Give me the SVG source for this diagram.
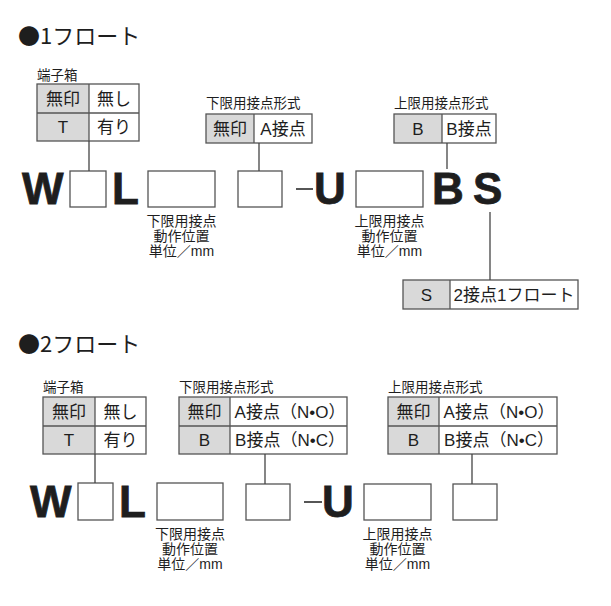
<svg xmlns="http://www.w3.org/2000/svg" width="611" height="606" viewBox="0 0 611 606">
<style>
text{font-family:"Liberation Sans","Noto Sans CJK JP",sans-serif;fill:#1e1e1e}
.title{font-size:22px;font-family:"Noto Sans CJK JP","Liberation Sans",sans-serif}
.hdr{font-size:13.5px}
.cell{font-size:17px;text-anchor:middle}
.lbl{font-size:14px;text-anchor:middle}
.big{font-size:44px;font-weight:bold;stroke:#1e1e1e;stroke-width:0.8}
.g{fill:#d9d9d9}
.w{fill:#fff}
.bd{fill:none;stroke:#555;stroke-width:1.3}
.ln{stroke:#555;stroke-width:1.3;fill:none}
.cn{stroke:#444;stroke-width:1.3;fill:none}
</style>
<rect width="611" height="606" fill="#fff"/>

<!-- Section 1 -->
<text class="title" x="18" y="44">●1フロート</text>

<g id="s1-terminal">
<text class="hdr" x="37" y="80">端子箱</text>
<rect class="g" x="37" y="84" width="52" height="57"/>
<rect class="w" x="89" y="84" width="50" height="57"/>
<rect class="bd" x="37" y="84" width="102" height="57"/>
<line class="ln" x1="37" y1="113" x2="139" y2="113"/>
<line class="ln" x1="89" y1="84" x2="89" y2="141"/>
<text class="cell" x="63" y="105">無印</text>
<text class="cell" x="114" y="105">無し</text>
<text class="cell" x="63" y="133">T</text>
<text class="cell" x="114" y="133">有り</text>
</g>

<g id="s1-lower">
<text class="hdr" x="206" y="108">下限用接点形式</text>
<rect class="g" x="206" y="114" width="48" height="29"/>
<rect class="w" x="254" y="114" width="58" height="29"/>
<rect class="bd" x="206" y="114" width="106" height="29"/>
<line class="ln" x1="254" y1="114" x2="254" y2="143"/>
<text class="cell" x="230" y="135">無印</text>
<text class="cell" x="283" y="135">A接点</text>
</g>

<g id="s1-upper">
<text class="hdr" x="394" y="108">上限用接点形式</text>
<rect class="g" x="394" y="114" width="48" height="29"/>
<rect class="w" x="442" y="114" width="54" height="29"/>
<rect class="bd" x="394" y="114" width="102" height="29"/>
<line class="ln" x1="442" y1="114" x2="442" y2="143"/>
<text class="cell" x="418" y="135">B</text>
<text class="cell" x="469" y="135">B接点</text>
</g>

<g id="s1-code">
<text class="big" x="22" y="204">W</text>
<rect class="bd" x="70" y="171" width="36" height="36"/>
<text class="big" x="112" y="204">L</text>
<rect class="bd" x="148" y="171" width="67" height="36"/>
<rect class="bd" x="238" y="171" width="44" height="36"/>
<line x1="296" y1="189" x2="313" y2="189" stroke="#1e1e1e" stroke-width="1.5"/>
<text class="big" x="314" y="204">U</text>
<rect class="bd" x="356" y="171" width="67" height="36"/>
<text class="big" x="432" y="204">B</text>
<text class="big" x="473" y="204">S</text>
</g>

<g id="s1-label-lower">
<text class="lbl" x="181.5" y="226">下限用接点</text>
<text class="lbl" x="181.5" y="241">動作位置</text>
<text class="lbl" x="181.5" y="256">単位／mm</text>
</g>
<g id="s1-label-upper">
<text class="lbl" x="389.5" y="226">上限用接点</text>
<text class="lbl" x="389.5" y="241">動作位置</text>
<text class="lbl" x="389.5" y="256">単位／mm</text>
</g>

<g id="s1-sbox">
<rect class="g" x="403" y="280" width="47" height="29"/>
<rect class="w" x="450" y="280" width="128" height="29"/>
<rect class="bd" x="403" y="280" width="175" height="29"/>
<line class="ln" x1="450" y1="280" x2="450" y2="309"/>
<text class="cell" x="426.5" y="301">S</text>
<text class="cell" x="514" y="301">2接点1フロート</text>
</g>

<g id="s1-connectors">
<line class="cn" x1="89" y1="141" x2="89" y2="171"/>
<line class="cn" x1="259" y1="143" x2="259" y2="171"/>
<line class="cn" x1="447" y1="143" x2="447" y2="169"/>
<line class="cn" x1="490" y1="212" x2="490" y2="280"/>
</g>

<!-- Section 2 -->
<text class="title" x="18" y="352">●2フロート</text>

<g id="s2-terminal">
<text class="hdr" x="43" y="392">端子箱</text>
<rect class="g" x="43" y="397" width="52" height="57"/>
<rect class="w" x="95" y="397" width="51" height="57"/>
<rect class="bd" x="43" y="397" width="103" height="57"/>
<line class="ln" x1="43" y1="426" x2="146" y2="426"/>
<line class="ln" x1="95" y1="397" x2="95" y2="454"/>
<text class="cell" x="69" y="418">無印</text>
<text class="cell" x="120.5" y="418">無し</text>
<text class="cell" x="69" y="446">T</text>
<text class="cell" x="120.5" y="446">有り</text>
</g>

<g id="s2-lower">
<text class="hdr" x="179" y="392">下限用接点形式</text>
<rect class="g" x="179" y="397" width="51" height="57"/>
<rect class="w" x="230" y="397" width="117" height="57"/>
<rect class="bd" x="179" y="397" width="168" height="57"/>
<line class="ln" x1="179" y1="426" x2="347" y2="426"/>
<line class="ln" x1="230" y1="397" x2="230" y2="454"/>
<text class="cell" x="204.5" y="418">無印</text>
<text class="cell" x="290" y="418">A接点（N•O）</text>
<text class="cell" x="204.5" y="446">B</text>
<text class="cell" x="290" y="446">B接点（N•C）</text>
</g>

<g id="s2-upper">
<text class="hdr" x="388" y="392">上限用接点形式</text>
<rect class="g" x="388" y="397" width="51" height="57"/>
<rect class="w" x="439" y="397" width="118" height="57"/>
<rect class="bd" x="388" y="397" width="169" height="57"/>
<line class="ln" x1="388" y1="426" x2="557" y2="426"/>
<line class="ln" x1="439" y1="397" x2="439" y2="454"/>
<text class="cell" x="413.5" y="418">無印</text>
<text class="cell" x="499" y="418">A接点（N•O）</text>
<text class="cell" x="413.5" y="446">B</text>
<text class="cell" x="499" y="446">B接点（N•C）</text>
</g>

<g id="s2-code">
<text class="big" x="30" y="517">W</text>
<rect class="bd" x="78" y="483" width="35" height="37"/>
<text class="big" x="119" y="517">L</text>
<rect class="bd" x="157" y="483" width="66" height="37"/>
<rect class="bd" x="246" y="484" width="44" height="36"/>
<line x1="304" y1="502" x2="322" y2="502" stroke="#1e1e1e" stroke-width="1.5"/>
<text class="big" x="322" y="517">U</text>
<rect class="bd" x="364" y="484" width="67" height="36"/>
<rect class="bd" x="453" y="484" width="44" height="36"/>
</g>

<g id="s2-label-lower">
<text class="lbl" x="190" y="539">下限用接点</text>
<text class="lbl" x="190" y="554">動作位置</text>
<text class="lbl" x="190" y="569">単位／mm</text>
</g>
<g id="s2-label-upper">
<text class="lbl" x="397.5" y="539">上限用接点</text>
<text class="lbl" x="397.5" y="554">動作位置</text>
<text class="lbl" x="397.5" y="569">単位／mm</text>
</g>

<g id="s2-connectors">
<line class="cn" x1="95" y1="454" x2="95" y2="483"/>
<line class="cn" x1="265" y1="454" x2="265" y2="484"/>
<line class="cn" x1="472" y1="454" x2="472" y2="484"/>
</g>
</svg>
